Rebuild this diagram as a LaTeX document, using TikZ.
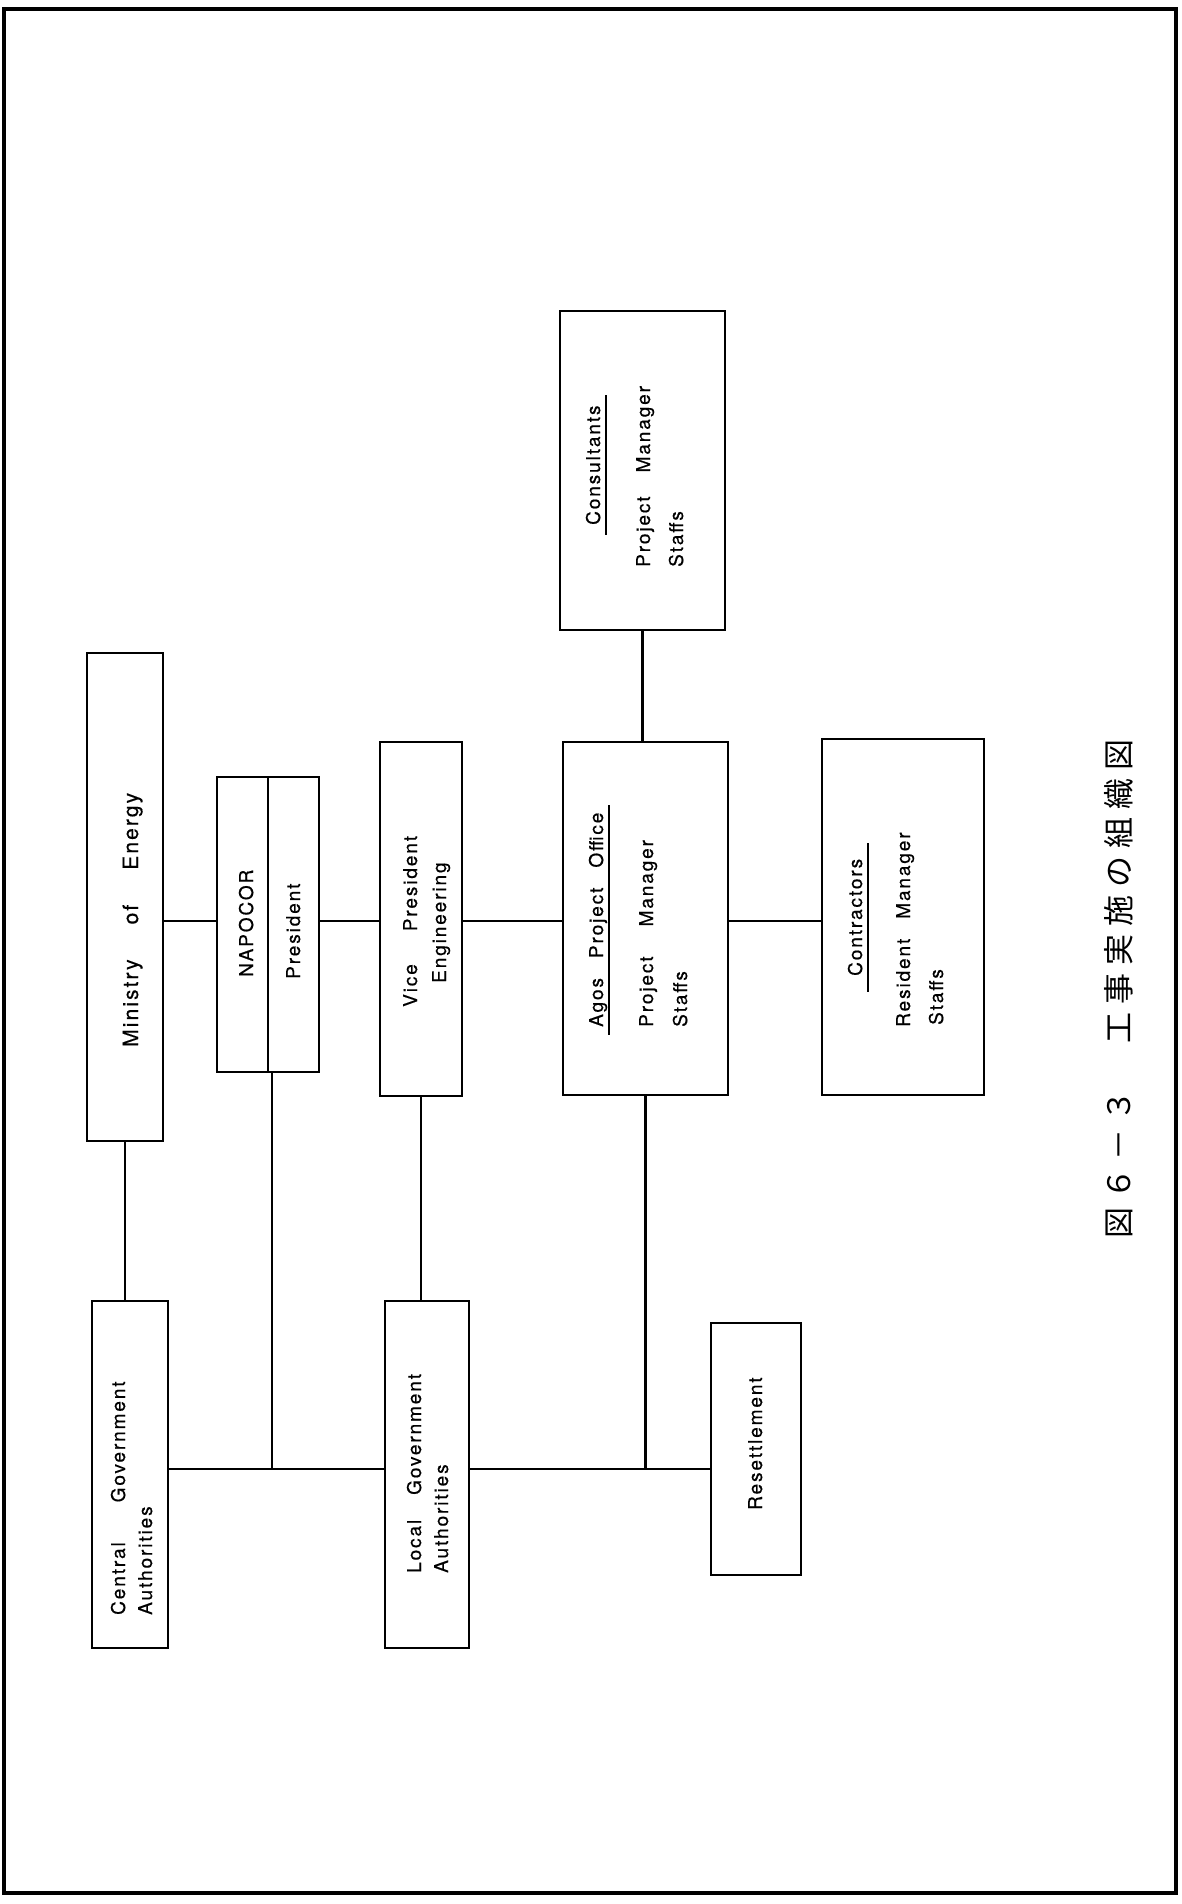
\documentclass[tikz,border=0pt]{standalone}
\usepackage{fontspec}
\setmainfont{TeX Gyre Heros}[LetterSpace=10,FakeBold=0.5]
\newfontfamily\cjk{Noto Sans CJK JP}[LetterSpace=26]
\newcommand\lbl{\fontsize{19}{23}\selectfont}
\newcommand\ttl[2][8pt]{\setbox0=\hbox{#2}\rlap{\hspace{-#1}\rule[-6.8pt]{\dimexpr\wd0+#1+#1\relax}{1.6pt}}\box0}
\begin{document}
\begin{tikzpicture}[x=1pt,y=-1pt,
  box/.style={draw, line width=2.8pt, inner sep=0pt, outer sep=0pt},
  conn/.style={line width=2.2pt},
  frame/.style={line width=3.5pt},
  txt/.style={rotate=90, anchor=base west, inner sep=0pt, font=\lbl},
  captxt/.style={rotate=90, anchor=west, inner sep=0pt, font=\cjk\fontsize{31}{31}\selectfont}]
\useasboundingbox (0,0) rectangle (1181,1904);
\fill[white] (0,0) rectangle (1181,1904);
\draw[frame] (4,9) rectangle (1176,1893);

% boxes
\node[box, minimum width=76pt, minimum height=488pt] (min) at (125,897) {};
\node[box, minimum width=102pt, minimum height=295pt] (nap) at (268,924.5) {};
\node[box, minimum width=82pt, minimum height=354pt] (vp) at (421,919) {};
\node[box, minimum width=165pt, minimum height=353pt] (agos) at (645.5,918.5) {};
\node[box, minimum width=165pt, minimum height=319pt] (cons) at (642.5,470.5) {};
\node[box, minimum width=162pt, minimum height=356pt] (contr) at (903,917) {};
\node[box, minimum width=76pt, minimum height=347pt] (cga) at (130,1474.5) {};
\node[box, minimum width=84pt, minimum height=347pt] (lga) at (427,1474.5) {};
\node[box, minimum width=90pt, minimum height=252pt] (res) at (756,1449) {};
\draw[line width=2.4pt] (nap.north) -- (nap.south);

% texts
\node[txt, font=\fontsize{21}{25}\selectfont] (mint) at (138,1047) {Ministry\hspace{35pt}of\hspace{35pt}Energy};
\node[txt] (napt) at (253,977) {NAPOCOR};
\node[txt] (prest) at (300,979) {President};
\node[txt] (vpt1) at (417,1007) {Vice\hspace{33pt}President};
\node[txt] (vpt2) at (446,983) {Engineering};
\node[txt] (agt1) at (603,1027) {\ttl{Agos\hspace{20pt}Project\hspace{20pt}Office}};
\node[txt] (agt2) at (653,1027) {Project\hspace{30pt}Manager};
\node[txt] (agt3) at (687,1027) {Staffs};
\node[txt] (cnt1) at (600,525) {\ttl[10pt]{Consultants}};
\node[txt] (cnt2) at (650,567) {Project\hspace{24pt}Manager};
\node[txt] (cnt3) at (683,567) {Staffs};
\node[txt] (crt1) at (862,976) {\ttl[16pt]{Contractors}};
\node[txt] (crt2) at (910,1027) {Resident\hspace{20pt}Manager};
\node[txt] (crt3) at (943,1025) {Staffs};
\node[txt] (cgt1) at (125,1615) {Central\hspace{40pt}Government};
\node[txt] (cgt2) at (152,1615) {Authorities};
\node[txt] (lgt1) at (421,1573) {Local\hspace{25pt}Government};
\node[txt] (lgt2) at (448,1573) {Authorities};
\node[txt] (rest) at (762,1510) {Resettlement};
\node[captxt] (cap) at (1118.5,1239) {図６－３　工事実施の組織図};

% connectors
\coordinate (hy) at (0,921);
\coordinate (by) at (0,1469);
\draw[conn] (min.east |- hy) -- (nap.west |- hy);
\draw[conn] (nap.east |- hy) -- (vp.west |- hy);
\draw[conn] (vp.east |- hy) -- (agos.west |- hy);
\draw[conn] (agos.east |- hy) -- (contr.west |- hy);
\draw[conn] (cons.south) -- (cons.south |- agos.north);
\draw[conn] (min.south) -- (min.south |- cga.north);
\draw[conn] (cga.east |- by) -- (lga.west |- by);
\draw[conn] (lga.east |- by) -- (res.west |- by);
\coordinate (napd) at ([xshift=4pt]nap.south);
\draw[conn] (napd) -- (napd |- by);
\draw[conn] (vp.south) -- (vp.south |- lga.north);
\draw[conn] (agos.south) -- (agos.south |- by);
\end{tikzpicture}
\end{document}
